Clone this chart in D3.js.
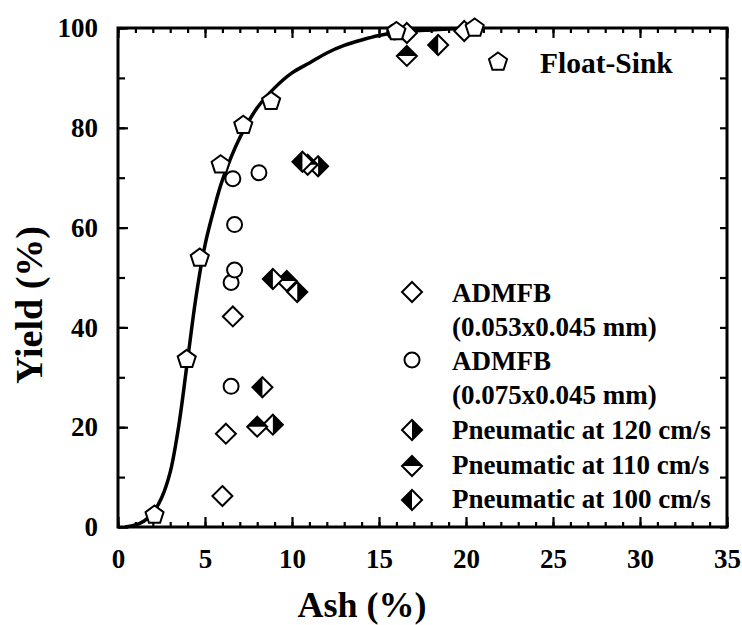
<!DOCTYPE html>
<html>
<head>
<meta charset="utf-8">
<script src="https://cdn.jsdelivr.net/npm/d3@7"></script>
<style>
  body { margin: 0; background: #fff; }
  svg text { font-family: "Liberation Serif", "Times New Roman", serif; font-weight: bold; fill: #000; }
</style>
</head>
<body>
<div id="chart"></div>
<script>
// values
const floatSinkAsh = [2.1, 3.95, 4.7, 5.9, 7.2, 8.8, 16.0, 20.5];
const floatSinkYield = [2.4, 33.6, 53.9, 72.6, 80.5, 85.3, 99.3, 100];

const admfb053Ash = [6.0, 6.2, 6.6, 16.6, 19.9];
const admfb053Yield = [6.2, 18.7, 42.2, 99.0, 99.4];

const admfb075Ash = [6.5, 6.5, 6.7, 6.7, 6.6, 8.1, 15.9];
const admfb075Yield = [28.2, 49.0, 51.5, 60.6, 69.8, 71.0, 99.2];

const pn120Ash = [8.9, 10.3, 11.5];
const pn120Yield = [20.5, 47.1, 72.3];
const pn110Ash = [8.0, 9.7, 10.9, 16.6];
const pn110Yield = [20.1, 49.3, 72.6, 94.4];
const pn100Ash = [8.3, 8.9, 10.6, 18.4];
const pn100Yield = [28.0, 49.7, 73.2, 96.6];

// fitted float-sink curve
const curveAsh = [0.4, 1, 1.5, 2, 2.5, 3, 3.5, 4, 4.5, 5, 5.5, 6, 7, 8, 9, 10, 11, 12, 13, 14, 15, 16, 18, 20.5];
const curveYield = [0, 0.4, 1.2, 2.8, 5.8, 11, 20.5, 33.5, 46.5, 56.5, 63.5, 69.5, 78, 84, 88, 91, 93, 95, 96.5, 97.6, 98.5, 99.1, 99.6, 100];

const xTicks = [0, 5, 10, 15, 20, 25, 30, 35];
const yTicks = [0, 20, 40, 60, 80, 100];

const W = 742, H = 625;
const margin = {left: 118, top: 28, right: 15, bottom: 98};
const iw = W - margin.left - margin.right;
const ih = H - margin.top - margin.bottom;

const svg = d3.select('#chart').append('svg')
  .attr('width', W).attr('height', H);

const g = svg.append('g').attr('transform', `translate(${margin.left},${margin.top})`);

const x = d3.scaleLinear().domain([0, 35]).range([0, iw]);
const y = d3.scaleLinear().domain([0, 100]).range([ih, 0]);

// axes with inward ticks on all four sides
function styleAxis(sel) {
  sel.select('.domain').remove();
  sel.selectAll('line').attr('stroke', '#000').attr('stroke-width', 2.2);
  sel.selectAll('text').style('font-size', '27px');
}

const xMinor = d3.range(0, 36, 1);
const yMinor = d3.range(0, 101, 10);

g.append('g').attr('transform', `translate(0,${ih})`)
  .call(d3.axisBottom(x).tickValues(xMinor).tickSize(-5).tickFormat(''))
  .call(styleAxis);
g.append('g').attr('transform', `translate(0,${ih})`)
  .call(d3.axisBottom(x).tickValues(xTicks).tickSize(-10).tickPadding(22).tickFormat(d3.format('d')))
  .call(styleAxis);
g.append('g')
  .call(d3.axisTop(x).tickValues(xMinor).tickSize(-5).tickFormat(''))
  .call(styleAxis);
g.append('g')
  .call(d3.axisTop(x).tickValues(xTicks).tickSize(-10).tickFormat(''))
  .call(styleAxis);

g.append('g')
  .call(d3.axisLeft(y).tickValues(yMinor).tickSize(-7).tickFormat(''))
  .call(styleAxis);
g.append('g')
  .call(d3.axisLeft(y).tickValues(yTicks).tickSize(-10).tickPadding(20).tickFormat(d3.format('d')))
  .call(styleAxis);
g.append('g').attr('transform', `translate(${iw},0)`)
  .call(d3.axisRight(y).tickValues(yMinor).tickSize(-7).tickFormat(''))
  .call(styleAxis);

g.append('rect')
  .attr('width', iw).attr('height', ih)
  .attr('fill', 'none').attr('stroke', '#000').attr('stroke-width', 3);

// curve
const curveData = curveAsh.map((a, i) => ({a: a, y: curveYield[i]}));
g.append('path')
  .datum(curveData)
  .attr('fill', 'none')
  .attr('stroke', '#000')
  .attr('stroke-width', 3.5)
  .attr('d', d3.line().x(d => x(d.a)).y(d => y(d.y)).curve(d3.curveCatmullRom));

// marker shapes
const DR = 10, CR = 7.5, PR = 9.5;
const pentagon = d3.range(5).map(k => {
  const t = (-90 + 72 * k) * Math.PI / 180;
  return [PR * Math.cos(t), PR * Math.sin(t)];
});
const diamond = [[0, -DR], [DR, 0], [0, DR], [-DR, 0]];
const halves = {
  left: [[0, -DR], [0, DR], [-DR, 0]],
  right: [[0, -DR], [DR, 0], [0, DR]],
  top: [[-DR, 0], [0, -DR], [DR, 0]]
};
const poly = pts => 'M' + pts.map(p => p.join(',')).join('L') + 'Z';

function marker(sel, kind) {
  if (kind === 'circle') {
    sel.append('circle').attr('r', CR)
      .attr('fill', '#fff').attr('stroke', '#000').attr('stroke-width', 2);
  } else if (kind === 'pentagon') {
    sel.append('path').attr('d', poly(pentagon))
      .attr('fill', '#fff').attr('stroke', '#000').attr('stroke-width', 2);
  } else {
    sel.append('path').attr('d', poly(diamond))
      .attr('fill', '#fff').attr('stroke', '#000').attr('stroke-width', 2).attr('stroke-linejoin', 'miter');
    if (halves[kind]) {
      sel.append('path').attr('d', poly(halves[kind])).attr('fill', '#000');
    }
  }
}

function plotSeries(ash, yld, kind) {
  const pts = ash.map((a, i) => ({a: a, y: yld[i]}));
  g.append('g').selectAll('g')
    .data(pts)
    .enter()
    .append('g')
    .attr('transform', d => `translate(${x(d.a)},${y(d.y)})`)
    .each(function() { marker(d3.select(this), kind); });
}

plotSeries(admfb053Ash, admfb053Yield, 'diamond');
plotSeries(admfb075Ash, admfb075Yield, 'circle');
plotSeries(pn120Ash, pn120Yield, 'right');
plotSeries(pn110Ash, pn110Yield, 'top');
plotSeries(pn100Ash, pn100Yield, 'left');
plotSeries(floatSinkAsh, floatSinkYield, 'pentagon');

// legends
const legendTop = svg.append('g');
marker(legendTop.append('g').attr('transform', 'translate(498,62)'), 'pentagon');
legendTop.append('text').attr('x', 540).attr('y', 73).style('font-size', '29.5px').text('Float-Sink');

const legendRows = [
  {kind: 'diamond', my: 292, lines: [['ADMFB', 302], ['(0.053x0.045 mm)', 336]]},
  {kind: 'circle', my: 360, lines: [['ADMFB', 370], ['(0.075x0.045 mm)', 404]]},
  {kind: 'right', my: 430, lines: [['Pneumatic at 120 cm/s', 439]]},
  {kind: 'top', my: 466, lines: [['Pneumatic at 110 cm/s', 474]]},
  {kind: 'left', my: 500, lines: [['Pneumatic at 100 cm/s', 508]]}
];
const lg = svg.append('g');
legendRows.forEach(r => {
  marker(lg.append('g').attr('transform', `translate(412,${r.my})`), r.kind);
  r.lines.forEach(l => {
    lg.append('text').attr('x', 452).attr('y', l[1]).style('font-size', '27px').text(l[0]);
  });
});

// axis titles
svg.append('text')
  .attr('x', 362).attr('y', 617)
  .attr('text-anchor', 'middle')
  .style('font-size', '36px')
  .text('Ash (%)');
svg.append('text')
  .attr('transform', 'translate(42,305) rotate(-90)')
  .attr('text-anchor', 'middle')
  .style('font-size', '38px')
  .text('Yield (%)');
</script>
</body>
</html>
